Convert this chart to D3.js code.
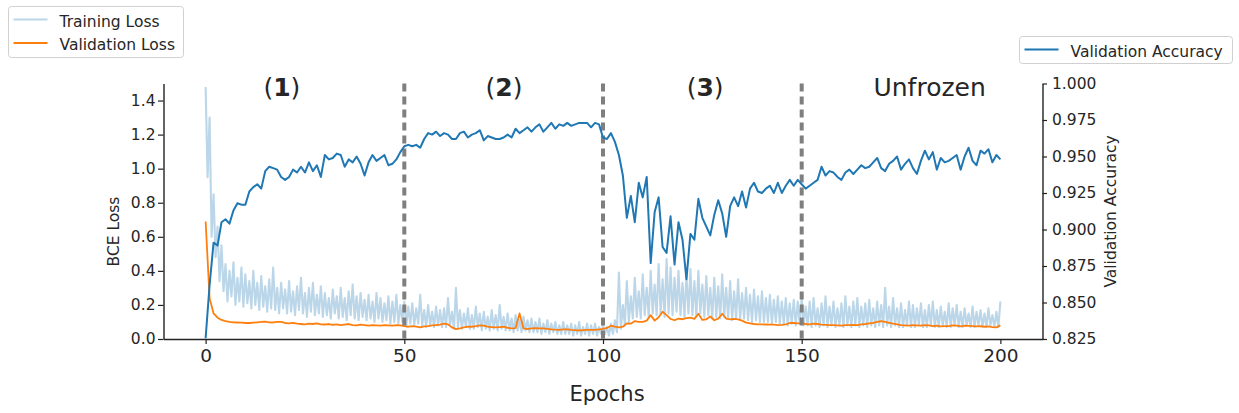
<!DOCTYPE html>
<html><head><meta charset="utf-8">
<script src="https://cdnjs.cloudflare.com/ajax/libs/d3/7.8.5/d3.min.js"></script>
<style>body{margin:0;background:#fff;} text{font-family:"DejaVu Sans",sans-serif;fill:#262626;}</style>
</head><body><svg id="c" width="1239" height="413"></svg>
<script>
// ---- data ----
const valAcc = [
.8255,.862,.891,.889,.905,.907,.904,.913,.918,.917,
.917,.926,.929,.931,.928,.940,.943,.942,.941,.936,
.934,.936,.941,.939,.943,.939,.946,.940,.944,.936,
.951,.948,.949,.952,.951,.943,.948,.946,.950,.945,
.937,.946,.951,.947,.949,.951,.944,.945,.948,.953,
.957,.958,.957,.958,.956,.962,.966,.965,.967,.964,
.966,.965,.962,.962,.966,.967,.963,.965,.966,.968,
.961,.964,.963,.962,.962,.963,.965,.963,.969,.966,
.968,.970,.967,.970,.972,.967,.970,.973,.969,.972,
.971,.973,.971,.972,.973,.973,.973,.970,.973,.972,
.963,.962,.966,.960,.951,.937,.908,.923,.905,.932,
.922,.936,.877,.912,.922,.888,.884,.909,.876,.905,
.893,.866,.897,.893,.921,.908,.902,.896,.910,.920,
.911,.895,.916,.922,.916,.926,.915,.928,.932,.926,
.925,.928,.930,.925,.932,.925,.930,.934,.930,.934,
.931,.928,.930,.932,.934,.943,.937,.940,.939,.936,
.934,.939,.941,.938,.941,.944,.942,.943,.946,.949,
.942,.940,.945,.947,.950,.941,.945,.948,.942,.938,
.947,.954,.948,.953,.941,.949,.946,.947,.949,.951,
.941,.950,.956,.947,.944,.954,.952,.955,.946,.951,
.948];
const valLoss = [
.690,.240,.150,.125,.112,.105,.100,.098,.097,.096,
.094,.094,.096,.098,.100,.102,.098,.097,.101,.100,
.094,.092,.095,.090,.088,.086,.090,.088,.092,.086,
.085,.088,.083,.086,.082,.085,.088,.082,.080,.084,
.082,.078,.082,.080,.078,.082,.080,.078,.082,.080,
.075,.072,.076,.072,.068,.074,.076,.080,.082,.084,
.090,.086,.068,.058,.062,.068,.072,.072,.075,.080,
.078,.072,.070,.068,.070,.072,.066,.062,.064,.150,
.062,.058,.062,.064,.062,.062,.060,.057,.055,.054,
.056,.056,.053,.052,.050,.052,.053,.054,.054,.056,
.060,.065,.078,.072,.068,.072,.092,.090,.105,.100,
.100,.108,.140,.108,.128,.160,.140,.118,.110,.120,
.116,.122,.125,.118,.148,.112,.116,.132,.110,.120,
.148,.120,.115,.118,.115,.108,.096,.092,.088,.086,
.086,.085,.084,.084,.082,.083,.086,.094,.094,.092,
.092,.088,.086,.090,.088,.084,.083,.082,.082,.080,
.078,.082,.082,.083,.082,.086,.088,.092,.094,.100,
.105,.100,.095,.090,.086,.082,.080,.078,.082,.080,
.078,.082,.080,.075,.078,.074,.076,.076,.080,.078,
.074,.078,.077,.076,.074,.075,.072,.074,.070,.068,
.080];
// training loss, sampled every half epoch
const trainStep = 0.5;
const trainLoss = [
1.48,0.95, 1.30,0.60, 0.85,0.48, 0.66,0.34, 0.55,0.28, 0.44,0.22, 0.40,0.25, 0.45,0.20, 0.36,0.22, 0.42,0.19,
0.38,0.21, 0.34,0.18, 0.40,0.20, 0.33,0.17, 0.37,0.19, 0.31,0.16, 0.35,0.18, 0.42,0.17, 0.30,0.15, 0.33,0.18,
0.29,0.15, 0.34,0.16, 0.28,0.14, 0.31,0.17, 0.36,0.15, 0.27,0.13, 0.30,0.16, 0.33,0.14, 0.26,0.15, 0.31,0.13,
0.27,0.14, 0.24,0.12, 0.29,0.15, 0.25,0.12, 0.30,0.13, 0.24,0.11, 0.28,0.14, 0.32,0.12, 0.25,0.11, 0.27,0.13,
0.23,0.11, 0.26,0.12, 0.22,0.10, 0.27,0.12, 0.24,0.10, 0.21,0.11, 0.25,0.09, 0.22,0.10, 0.26,0.09, 0.20,0.10,
0.22,0.08, 0.19,0.09, 0.21,0.08, 0.18,0.09, 0.26,0.08, 0.17,0.07, 0.20,0.08, 0.16,0.07, 0.19,0.08, 0.17,0.07,
0.18,0.07, 0.24,0.08, 0.16,0.06, 0.30,0.07, 0.17,0.06, 0.15,0.07, 0.18,0.06, 0.14,0.06, 0.19,0.07, 0.15,0.05,
0.16,0.06, 0.13,0.05, 0.17,0.06, 0.14,0.05, 0.20,0.06, 0.13,0.05, 0.15,0.05, 0.12,0.04, 0.14,0.05, 0.11,0.04,
0.13,0.05, 0.11,0.04, 0.12,0.04, 0.10,0.04, 0.12,0.03, 0.09,0.04, 0.11,0.03, 0.09,0.04, 0.10,0.03, 0.08,0.03,
0.10,0.03, 0.08,0.03, 0.09,0.02, 0.08,0.03, 0.10,0.02, 0.07,0.03, 0.09,0.02, 0.08,0.03, 0.09,0.02, 0.07,0.03,
0.08,0.03, 0.07,0.02, 0.09,0.03, 0.11,0.04, 0.39,0.06, 0.20,0.08, 0.34,0.10, 0.25,0.12, 0.36,0.13, 0.28,0.12,
0.38,0.14, 0.30,0.13, 0.40,0.15, 0.32,0.14, 0.44,0.15, 0.35,0.13, 0.47,0.15, 0.42,0.14, 0.36,0.16, 0.40,0.14,
0.33,0.13, 0.38,0.15, 0.41,0.14, 0.34,0.13, 0.40,0.15, 0.32,0.13, 0.37,0.14, 0.30,0.12, 0.36,0.13, 0.31,0.12,
0.38,0.13, 0.30,0.12, 0.34,0.11, 0.28,0.12, 0.35,0.11, 0.27,0.12, 0.30,0.11, 0.26,0.10, 0.29,0.11, 0.25,0.10,
0.28,0.10, 0.24,0.10, 0.26,0.09, 0.23,0.10, 0.25,0.09, 0.22,0.09, 0.24,0.08, 0.21,0.09, 0.23,0.08, 0.22,0.09,
0.24,0.08, 0.19,0.08, 0.22,0.07, 0.24,0.08, 0.18,0.07, 0.21,0.08, 0.25,0.07, 0.19,0.08, 0.22,0.07, 0.18,0.08,
0.21,0.07, 0.25,0.08, 0.19,0.07, 0.22,0.08, 0.24,0.07, 0.19,0.08, 0.21,0.07, 0.23,0.08, 0.18,0.07, 0.22,0.08,
0.20,0.07, 0.30,0.08, 0.19,0.07, 0.24,0.08, 0.18,0.07, 0.21,0.07, 0.17,0.08, 0.22,0.07, 0.20,0.07, 0.18,0.08,
0.21,0.07, 0.17,0.07, 0.20,0.08, 0.22,0.07, 0.17,0.07, 0.19,0.08, 0.16,0.07, 0.21,0.07, 0.18,0.08, 0.20,0.07,
0.16,0.07, 0.18,0.08, 0.15,0.07, 0.19,0.07, 0.16,0.08, 0.17,0.07, 0.15,0.07, 0.18,0.08, 0.14,0.07, 0.16,0.07,
0.22];
const xTicks = [0, 50, 100, 150, 200];
const yLeftTicks = [0, 0.2, 0.4, 0.6, 0.8, 1.0, 1.2, 1.4];
const yRightTicks = [0.825, 0.850, 0.875, 0.900, 0.925, 0.950, 0.975, 1.000];
const phaseBounds = [50, 100, 150];
const phaseNames = ["1", "2", "3", "Unfrozen"];
const phaseLabelX = [19.2, 75.1, 125.7, 182.2];
const phaseLabelY = 1.425;

// ---- chart ----
const svg = d3.select("#c");
const PL = 163.5, PR = 1042.5, PT = 83.5, PB = 339;
const x = d3.scaleLinear().domain([-10.6, 210.6]).range([PL, PR]);
const yL = d3.scaleLinear().domain([0, 1.5]).range([PB, PT]);
const yR = d3.scaleLinear().domain([0.825, 1.0]).range([PB, PT]);
const C_BLUE = "#1f77b4", C_ORANGE = "#ff7f0e";

// training loss
svg.append("path").datum(trainLoss)
  .attr("d", d3.line().x((d,i)=>x(i*trainStep)).y(d=>yL(d)))
  .attr("fill","none").attr("stroke",C_BLUE).attr("stroke-opacity",0.3)
  .attr("stroke-width",2.1).attr("stroke-linejoin","round");
// validation loss
svg.append("path").datum(valLoss)
  .attr("d", d3.line().x((d,i)=>x(i)).y(d=>yL(d)))
  .attr("fill","none").attr("stroke",C_ORANGE).attr("stroke-width",1.8).attr("stroke-linejoin","round");
// phase separators
svg.selectAll("line.phase").data(phaseBounds).enter().append("line")
  .attr("x1",d=>x(d)).attr("x2",d=>x(d)).attr("y1",PT).attr("y2",PB)
  .attr("stroke","#7f7f7f").attr("stroke-width",4).attr("stroke-dasharray","8,5");
// validation accuracy
svg.append("path").datum(valAcc)
  .attr("d", d3.line().x((d,i)=>x(i)).y(d=>yR(d)))
  .attr("fill","none").attr("stroke",C_BLUE).attr("stroke-width",2).attr("stroke-linejoin","round");

// axes
function styleAxis(g, fs){
  g.selectAll("path.domain").attr("stroke","#222").attr("stroke-width",1.4);
  g.selectAll(".tick line").attr("stroke","#222").attr("stroke-width",1.2);
  g.selectAll(".tick text").attr("font-size",fs).attr("fill","#262626").style("font-family","DejaVu Sans");
}
svg.append("g").attr("transform",`translate(${PL},0)`)
  .call(d3.axisLeft(yL).tickValues(yLeftTicks).tickFormat(d3.format(".1f")).tickSize(5.5).tickPadding(2.5).tickSizeOuter(0))
  .call(g=>styleAxis(g,"15.5px"));
svg.append("g").attr("transform",`translate(${PR},0)`)
  .call(d3.axisRight(yR).tickValues(yRightTicks).tickFormat(d3.format(".3f")).tickSize(4.5).tickPadding(5).tickSizeOuter(0))
  .call(g=>styleAxis(g,"15.5px"));
svg.append("g").attr("transform",`translate(0,${PB})`)
  .call(d3.axisBottom(x).tickValues(xTicks).tickFormat(d3.format("d")).tickSize(5).tickPadding(5).tickSizeOuter(0))
  .call(g=>styleAxis(g,"18.5px"));

// axis labels
svg.append("text").attr("transform","translate(118.6,231.5) rotate(-90)")
  .attr("text-anchor","middle").attr("font-size","15.5px").text("BCE Loss");
svg.append("text").attr("transform","translate(1116,211.5) rotate(-90)")
  .attr("text-anchor","middle").attr("font-size","15.5px").text("Validation Accuracy");
svg.append("text").attr("x",607).attr("y",401).attr("text-anchor","middle")
  .attr("font-size","21px").text("Epochs");

// phase labels
phaseNames.forEach((n,i)=>{
  const t = svg.append("text").attr("x",x(phaseLabelX[i])).attr("y",yL(phaseLabelY))
    .attr("text-anchor","middle").attr("font-size","25px").attr("fill","#000");
  if (n.length === 1) {
    t.append("tspan").text("(");
    t.append("tspan").attr("font-weight","bold").text(n);
    t.append("tspan").text(")");
  } else t.text(n);
});

// legends
function legend(x0, y0, w, h, items){
  const g = svg.append("g");
  g.append("rect").attr("x",x0).attr("y",y0).attr("width",w).attr("height",h).attr("rx",3)
    .attr("fill","#fff").attr("fill-opacity",0.8).attr("stroke","#d0d0d0").attr("stroke-width",1);
  items.forEach(it=>{
    g.append("line").attr("x1",x0+5).attr("x2",x0+39).attr("y1",it.y).attr("y2",it.y)
      .attr("stroke",it.color).attr("stroke-opacity",it.op).attr("stroke-width",2);
    g.append("text").attr("x",x0+51).attr("y",it.y+7).attr("font-size","15.5px").text(it.label);
  });
}
legend(8.5, 6.5, 175, 51, [
  {label:"Training Loss", color:C_BLUE, op:0.3, y:19.5},
  {label:"Validation Loss", color:C_ORANGE, op:1, y:43}
]);
legend(1019.5, 36.5, 213, 27, [
  {label:"Validation Accuracy", color:C_BLUE, op:1, y:49.5}
]);
</script></body></html>
